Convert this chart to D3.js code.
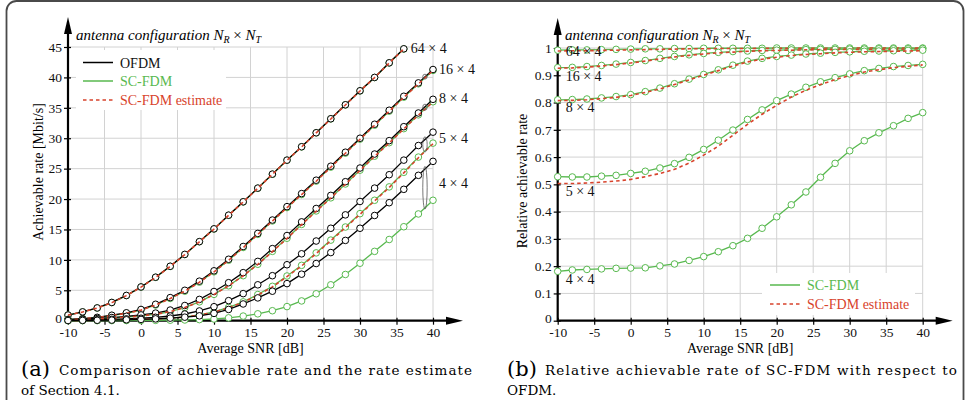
<!DOCTYPE html>
<html>
<head>
<meta charset="utf-8">
<script src="https://cdnjs.cloudflare.com/ajax/libs/d3/7.8.5/d3.min.js"></script>
<style>
  body { margin: 0; background: #fff; }
  svg { display: block; }
</style>
</head>
<body>
<svg id="chart" width="970" height="400"></svg>
<script>
// x values (dB), every 2 dB
const snrDb = [-10,-8,-6,-4,-2,0,2,4,6,8,10,12,14,16,18,20,22,24,26,28,30,32,34,36,38,40];
const snrTicks = [-10,-5,0,5,10,15,20,25,30,35,40];
const rateTicks = [0,5,10,15,20,25,30,35,40,45];
const relTicks = [0,0.1,0.2,0.3,0.4,0.5,0.6,0.7,0.8,0.9,1];

// (a) achievable rate [Mbit/s] -- 64x4 stops at 36 dB
const ofdm64  = [0.93,1.45,2.1,3.0,4.15,5.55,7.15,8.95,10.9,13.0,15.1,17.35,19.55,21.8,24.1,26.4,28.6,30.9,33.2,35.5,37.8,40.0,42.4,44.7];
const scfdm64 = [0.92,1.44,2.08,2.98,4.13,5.53,7.13,8.93,10.88,12.98,15.08,17.33,19.53,21.78,24.08,26.38,28.58,30.88,33.18,35.48,37.78,39.98,42.38,44.68];
const est64   = [0.92,1.43,2.08,2.97,4.12,5.52,7.12,8.92,10.87,12.97,15.07,17.32,19.52,21.77,24.07,26.37,28.57,30.87,33.17,35.47,37.77,39.97,42.37,44.67];

const ofdm16  = [0.2,0.33,0.55,0.9,1.3,1.85,2.7,3.8,5.0,6.5,8.2,10.1,12.2,14.35,16.55,18.75,20.9,23.1,25.4,27.7,30.0,32.3,34.6,36.9,39.1,41.3];
const scfdm16 = [0.19,0.31,0.51,0.84,1.22,1.75,2.58,3.66,4.85,6.34,8.04,9.94,12.04,14.2,16.4,18.6,20.75,22.95,25.25,27.55,29.85,32.15,34.45,36.75,38.95,41.15];
const est16   = [0.19,0.31,0.51,0.84,1.22,1.74,2.57,3.65,4.84,6.32,8.02,9.92,12.02,14.18,16.38,18.58,20.73,22.93,25.23,27.53,29.83,32.13,34.43,36.73,38.93,41.13];

const ofdm8  = [0.15,0.24,0.36,0.52,0.72,0.95,1.25,1.75,2.5,3.5,4.8,6.25,7.9,9.75,11.85,14.0,16.25,18.45,20.6,22.85,25.1,27.4,29.6,31.9,34.15,36.4];
const scfdm8 = [0.12,0.19,0.29,0.42,0.59,0.79,1.05,1.49,2.17,3.1,4.33,5.75,7.4,9.28,11.4,13.56,15.83,18.05,20.2,22.48,24.75,27.05,29.27,31.58,33.85,36.0];
const est8   = [0.12,0.19,0.29,0.42,0.59,0.78,1.05,1.49,2.16,3.09,4.32,5.73,7.38,9.25,11.37,13.52,15.8,18.0,20.17,22.44,24.7,27.0,29.22,31.53,33.8,35.95];

const ofdm5  = [0.07,0.1,0.15,0.22,0.3,0.4,0.55,0.77,1.1,1.6,2.3,3.3,4.45,5.9,7.4,9.2,11.0,13.1,15.2,17.4,19.6,21.8,24.0,26.4,28.8,31.0];
const scfdm5 = [0.037,0.053,0.08,0.117,0.16,0.216,0.3,0.43,0.63,0.96,1.44,2.18,3.1,4.3,5.65,7.35,9.1,11.15,13.25,15.4,17.6,19.8,22.0,24.4,26.9,29.2];
const est5   = [0.035,0.05,0.076,0.112,0.154,0.207,0.29,0.415,0.61,0.925,1.4,2.11,3.03,4.2,5.55,7.25,9.0,11.05,13.15,15.3,17.5,19.7,21.9,24.3,26.8,29.1];

const ofdm4  = [0.03,0.05,0.07,0.1,0.15,0.21,0.3,0.42,0.58,0.8,1.2,1.85,2.75,3.75,4.85,6.1,7.65,9.4,11.2,13.2,15.2,17.3,19.4,21.6,23.9,26.2];
const scfdm4 = [0.006,0.009,0.013,0.019,0.029,0.041,0.058,0.084,0.12,0.18,0.28,0.47,0.76,1.13,1.64,2.32,3.25,4.43,5.9,7.6,9.45,11.4,13.35,15.45,17.55,19.8];

// (b) relative achievable rate SC-FDM / OFDM
const rel64    = [0.992,0.993,0.993,0.994,0.995,0.996,0.997,0.997,0.998,0.998,0.999,0.999,0.999,0.999,0.999,1,1,1,1,1,1,1,1,1,1,1];
const relEst64 = [0.989,0.99,0.99,0.991,0.992,0.993,0.994,0.995,0.996,0.997,0.997,0.998,0.998,0.998,0.999,0.999,0.999,0.999,0.999,0.999,0.999,1,1,1,1,1];
const rel16    = [0.928,0.929,0.932,0.936,0.941,0.947,0.954,0.962,0.969,0.975,0.98,0.984,0.987,0.989,0.991,0.992,0.993,0.994,0.995,0.995,0.996,0.996,0.997,0.997,0.997,0.998];
const relEst16 = [0.926,0.927,0.93,0.934,0.939,0.945,0.952,0.96,0.967,0.973,0.978,0.982,0.985,0.988,0.99,0.991,0.992,0.993,0.994,0.994,0.995,0.995,0.996,0.996,0.996,0.997];
const rel8     = [0.81,0.811,0.813,0.817,0.822,0.829,0.84,0.853,0.869,0.886,0.903,0.92,0.937,0.952,0.962,0.969,0.974,0.978,0.981,0.984,0.986,0.988,0.989,0.99,0.991,0.992];
const relEst8  = [0.807,0.808,0.81,0.814,0.819,0.826,0.837,0.85,0.866,0.883,0.9,0.917,0.934,0.949,0.959,0.966,0.972,0.976,0.979,0.982,0.984,0.986,0.987,0.988,0.989,0.99];
const rel5     = [0.528,0.527,0.527,0.53,0.533,0.54,0.548,0.56,0.576,0.599,0.628,0.662,0.699,0.738,0.773,0.807,0.831,0.856,0.876,0.891,0.905,0.917,0.925,0.932,0.936,0.94];
const relEst5  = [0.503,0.503,0.505,0.508,0.512,0.518,0.528,0.54,0.555,0.578,0.607,0.64,0.68,0.72,0.757,0.79,0.82,0.845,0.866,0.884,0.899,0.912,0.92,0.928,0.933,0.938];
const rel4     = [0.181,0.186,0.188,0.19,0.192,0.193,0.194,0.201,0.208,0.221,0.235,0.253,0.275,0.302,0.339,0.381,0.425,0.472,0.526,0.577,0.623,0.66,0.689,0.715,0.742,0.763];


const svg = d3.select("#chart");
const SERIF = '"Liberation Serif", "Times New Roman", serif';
const CAPTION = '"DejaVu Serif", serif';
const GREEN = "#58b94f";
const RED = "#d8432c";
const GRID = "#d2d2d2";

// outer frame
svg.append("rect")
    .attr("x", 6.5).attr("y", 1)
    .attr("width", 957).attr("height", 440)
    .attr("rx", 10)
    .attr("fill", "none")
    .attr("stroke", "#4a4a4a")
    .attr("stroke-width", 1.8);

const xL = d3.scaleLinear().domain([-10, 40]).range([68, 433]);
const yL = d3.scaleLinear().domain([0, 45]).range([320.7, 47]);
const xR = d3.scaleLinear().domain([-10, 40]).range([557.7, 922.7]);
const yR = d3.scaleLinear().domain([0, 1]).range([320.7, 48]);


function drawAxes(g, x, y, yTicks) {
    const top = y(yTicks[yTicks.length - 1]);

    // grid
    g.append("g").selectAll("line")
        .data(snrTicks.slice(1))
        .join("line")
        .attr("x1", d => x(d)).attr("x2", d => x(d))
        .attr("y1", y(0)).attr("y2", top)
        .attr("stroke", GRID).attr("stroke-width", 1);

    g.append("g").selectAll("line")
        .data(yTicks.slice(1))
        .join("line")
        .attr("x1", x(-10)).attr("x2", x(40))
        .attr("y1", d => y(d)).attr("y2", d => y(d))
        .attr("stroke", GRID).attr("stroke-width", 1);

    // x axis
    const xa = g.append("g")
        .attr("transform", `translate(0, ${y(0)})`)
        .call(d3.axisBottom(x).tickValues(snrTicks).tickFormat(d => String(d)).tickSize(4).tickPadding(3));
    xa.select(".domain").remove();
    xa.selectAll(".tick line").attr("y1", -3).attr("stroke-width", 1.2);
    xa.selectAll("text").attr("font-family", SERIF).attr("font-size", 13.5).attr("fill", "#111");

    // y axis
    const ya = g.append("g")
        .attr("transform", `translate(${x(-10)}, 0)`)
        .call(d3.axisLeft(y).tickValues(yTicks).tickFormat(d => String(d)).tickSize(4).tickPadding(2));
    ya.select(".domain").remove();
    ya.selectAll(".tick line").attr("x1", 3).attr("stroke-width", 1.2);
    ya.selectAll("text").attr("font-family", SERIF).attr("font-size", 13.5).attr("fill", "#111");
    // lift the "0" label a touch so it clears the "-10" below it
    ya.selectAll(".tick").filter(d => d === 0).select("text").attr("dy", "0.1em");

    // axis lines with arrow heads
    const x0 = x(-10), y0 = y(0);
    const xEnd = x(40) + 30, yEnd = top - 30;
    g.append("line")
        .attr("x1", x0).attr("x2", xEnd - 12)
        .attr("y1", y0).attr("y2", y0)
        .attr("stroke", "#000").attr("stroke-width", 2.2);
    g.append("line")
        .attr("x1", x0).attr("x2", x0)
        .attr("y1", y0 + 1).attr("y2", yEnd + 12)
        .attr("stroke", "#000").attr("stroke-width", 2.2);
    g.append("path")
        .attr("d", `M${xEnd},${y0} L${xEnd - 17},${y0 - 4} L${xEnd - 17},${y0 + 4} Z`)
        .attr("fill", "#000");
    g.append("path")
        .attr("d", `M${x0},${yEnd} L${x0 - 4},${yEnd + 17} L${x0 + 4},${yEnd + 17} Z`)
        .attr("fill", "#000");

    g.append("text")
        .attr("x", (x(-10) + x(40)) / 2)
        .attr("y", 353)
        .attr("text-anchor", "middle")
        .attr("font-family", SERIF)
        .attr("font-size", 14)
        .text("Average SNR [dB]");
}


function series(g, x, y, vals, color, dashed, markers) {
    const pts = vals.map((v, i) => [snrDb[i], v]);
    const line = d3.line().x(d => x(d[0])).y(d => y(d[1]));

    g.append("path")
        .datum(pts)
        .attr("d", line)
        .attr("fill", "none")
        .attr("stroke", color)
        .attr("stroke-width", dashed ? 1.6 : 1.3)
        .attr("stroke-dasharray", dashed ? "3.5,3" : null);

    if (markers) {
        g.append("g").selectAll("circle")
            .data(pts)
            .join("circle")
            .attr("cx", d => x(d[0]))
            .attr("cy", d => y(d[1]))
            .attr("r", 3.3)
            .attr("fill", "#fff")
            .attr("stroke", color)
            .attr("stroke-width", 1);
    }
}


function title(g, x0) {
    const t = g.append("text")
        .attr("x", x0).attr("y", 40)
        .attr("font-family", SERIF)
        .attr("font-size", 15)
        .attr("font-style", "italic");
    t.append("tspan").text("antenna configuration N");
    t.append("tspan").attr("font-size", 10).attr("dy", 3).text("R");
    t.append("tspan").attr("dy", -3).attr("font-style", "normal").text(" × ");
    t.append("tspan").text("N");
    t.append("tspan").attr("font-size", 10).attr("dy", 3).text("T");
}


function legendItem(g, x0, y0, color, dashed, label) {
    g.append("line")
        .attr("x1", x0).attr("x2", x0 + 30)
        .attr("y1", y0).attr("y2", y0)
        .attr("stroke", color)
        .attr("stroke-width", dashed ? 1.6 : 1.5)
        .attr("stroke-dasharray", dashed ? "3.5,3" : null);
    g.append("text")
        .attr("x", x0 + 37).attr("y", y0 + 5)
        .attr("font-family", SERIF)
        .attr("font-size", 14)
        .attr("fill", color === "#000" ? "#111" : color)
        .text(label);
}


function label(g, x0, y0, text) {
    g.append("text")
        .attr("x", x0).attr("y", y0)
        .attr("font-family", SERIF)
        .attr("font-size", 14)
        .attr("fill", "#111")
        .text(text);
}


// ---------- panel (a) ----------
const ga = svg.append("g");
drawAxes(ga, xL, yL, rateTicks);

ga.append("text")
    .attr("transform", `translate(43, 172) rotate(-90)`)
    .attr("text-anchor", "middle")
    .attr("font-family", SERIF)
    .attr("font-size", 14)
    .text("Achievable rate [Mbit/s]");

title(ga, 76);

ga.append("rect")
    .attr("x", 76).attr("y", 50)
    .attr("width", 150).attr("height", 60)
    .attr("fill", "#fff");
legendItem(ga, 83, 62.5, "#000", false, "OFDM");
legendItem(ga, 83, 81, GREEN, false, "SC-FDM");
legendItem(ga, 83, 100, RED, true, "SC-FDM estimate");

const leftSets = [
    [ofdm64, scfdm64, est64],
    [ofdm16, scfdm16, est16],
    [ofdm8, scfdm8, est8],
    [ofdm5, scfdm5, est5],
    [ofdm4, scfdm4, null]
];
// SC-FDM first so the OFDM circles sit on top, estimate dashes last
leftSets.forEach(([o, s, e]) => {
    series(ga, xL, yL, s, GREEN, false, true);
    series(ga, xL, yL, o, "#000", false, true);
    if (e) series(ga, xL, yL, e, RED, true, false);
});

// small ellipses marking the OFDM / SC-FDM gap near 39 dB
leftSets.slice(1).forEach(([o, s]) => {
    const n = o.length;
    const top = yL((o[n - 2] + o[n - 1]) / 2);
    const bot = yL((s[n - 2] + s[n - 1]) / 2);
    ga.append("ellipse")
        .attr("cx", xL(38.9))
        .attr("cy", (top + bot) / 2)
        .attr("rx", 2.2)
        .attr("ry", (bot - top) / 2 + 2)
        .attr("fill", "none")
        .attr("stroke", "#555")
        .attr("stroke-width", 0.8);
});

label(ga, xL(36) + 7, yL(44.7) + 4, "64 × 4");
label(ga, xL(40) + 6, yL(41.3) + 4, "16 × 4");
label(ga, xL(40) + 6, yL(36.4) + 4, "8 × 4");
label(ga, xL(40) + 6, yL(29.2), "5 × 4");
label(ga, xL(40) + 6, yL(21.8), "4 × 4");


// ---------- panel (b) ----------
const gb = svg.append("g");
drawAxes(gb, xR, yR, relTicks);

gb.append("text")
    .attr("transform", `translate(527, 181) rotate(-90)`)
    .attr("text-anchor", "middle")
    .attr("font-family", SERIF)
    .attr("font-size", 14)
    .text("Relative achievable rate");

title(gb, 565);

const rightSets = [
    [rel64, relEst64],
    [rel16, relEst16],
    [rel8, relEst8],
    [rel5, relEst5],
    [rel4, null]
];
rightSets.forEach(([s, e]) => {
    series(gb, xR, yR, s, GREEN, false, true);
    if (e) series(gb, xR, yR, e, RED, true, false);
});

label(gb, xR(-10) + 8, yR(0.972), "64 × 4");
label(gb, xR(-10) + 8, yR(0.88), "16 × 4");
label(gb, xR(-10) + 8, yR(0.765), "8 × 4");
label(gb, xR(-10) + 8, yR(0.457), "5 × 4");
label(gb, xR(-10) + 8, yR(0.134), "4 × 4");

gb.append("rect")
    .attr("x", 762).attr("y", 273)
    .attr("width", 153).attr("height", 42)
    .attr("fill", "#fff");
legendItem(gb, 770, 285, GREEN, false, "SC-FDM");
legendItem(gb, 770, 304, RED, true, "SC-FDM estimate");


// ---------- captions ----------
function caption(x0, tag, line1, line2, len1) {
    svg.append("text")
        .attr("x", x0).attr("y", 376)
        .attr("font-family", CAPTION)
        .attr("font-size", 21)
        .text(tag);
    svg.append("text")
        .attr("x", x0 + 38).attr("y", 375)
        .attr("font-family", CAPTION)
        .attr("font-size", 13.5)
        .attr("textLength", len1)
        .attr("lengthAdjust", "spacing")
        .text(line1);
    svg.append("text")
        .attr("x", x0).attr("y", 395)
        .attr("font-family", CAPTION)
        .attr("font-size", 13.5)
        .text(line2);
}

caption(21, "(a)", "Comparison of achievable rate and the rate estimate", "of Section 4.1.", 413);
caption(507, "(b)", "Relative achievable rate of SC-FDM with respect to", "OFDM.", 412);
</script>
</body>
</html>
